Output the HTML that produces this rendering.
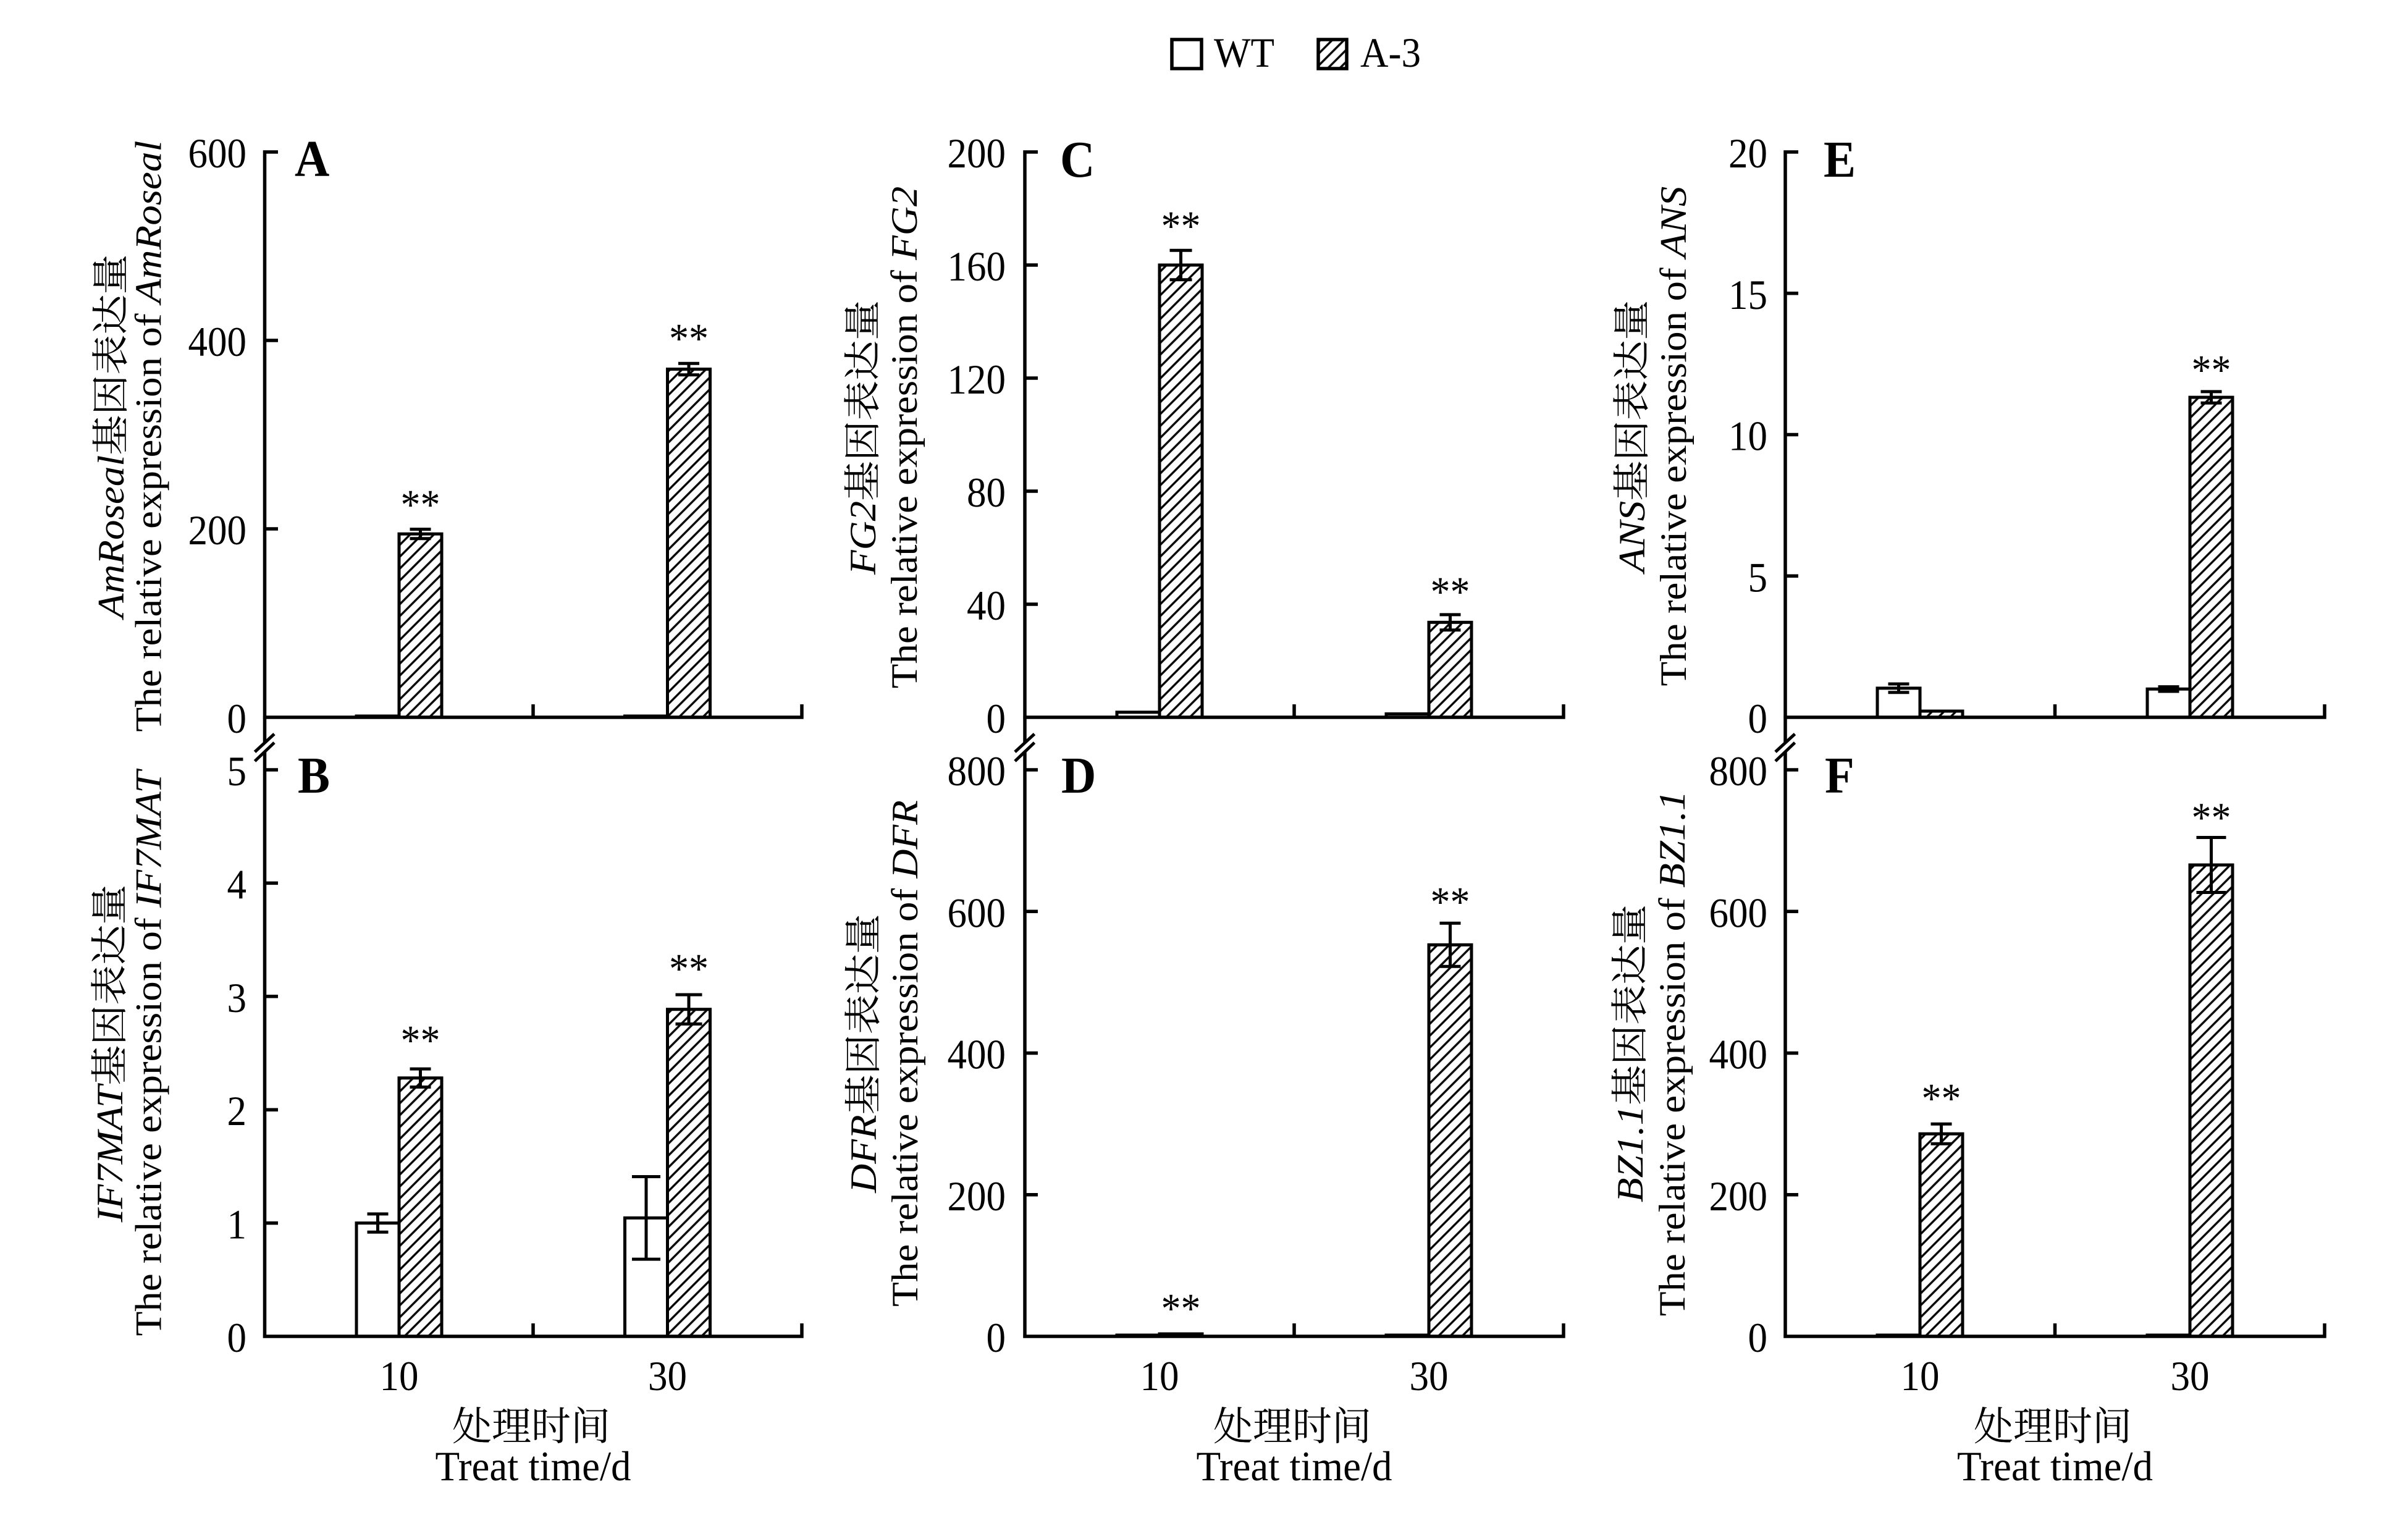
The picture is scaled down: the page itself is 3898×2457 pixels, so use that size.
<!DOCTYPE html>
<html>
<head>
<meta charset="utf-8">
<style>
  html, body { margin: 0; padding: 0; background: #ffffff; }
  svg { display: block; }
  text { font-family: "Liberation Serif", "Noto Serif CJK SC", serif; fill: #000; }
  .tk { font-size: 63px; }
  .xl { font-size: 63px; }
  .lt { font-size: 78px; font-weight: bold; }
  .at { font-size: 60.5px; }
  .st { font-size: 64px; }
  .lg { font-size: 63px; }
  .cj { font-size: 64px; }
  .tr { font-size: 65px; }
</style>
</head>
<body>
<svg width="3898" height="2457" viewBox="0 0 3898 2457" xmlns="http://www.w3.org/2000/svg">
  <defs>
    <pattern id="h" patternUnits="userSpaceOnUse" width="13.6" height="13.6" patternTransform="rotate(-45)">
      <rect x="0" y="0" width="13.6" height="13.6" fill="#fff"/>
      <line x1="-1" y1="6.8" x2="14.6" y2="6.8" stroke="#000" stroke-width="3.5"/>
    </pattern>
  </defs>
  <rect x="0" y="0" width="3898" height="2457" fill="#fff"/>

  <!-- Legend -->
  <rect x="1897" y="64" width="48" height="47" fill="#fff" stroke="#000" stroke-width="5.5"/>
  <text class="lg" transform="translate(1965,108) scale(1,1.075)">WT</text>
  <rect x="2134" y="64" width="46" height="47" fill="url(#h)" stroke="#000" stroke-width="5.5"/>
  <text class="lg" transform="translate(2202,108) scale(1,1.075)">A-3</text>

  <!-- ================= BARS ================= -->
  <g stroke="#000" stroke-width="5">
    <!-- A -->
    <rect x="577" y="1159" width="69" height="2" fill="#fff"/>
    <rect x="646" y="864.2" width="69" height="296.8" fill="url(#h)"/>
    <rect x="1011.5" y="1159" width="69" height="2" fill="#fff"/>
    <rect x="1080.5" y="597.5" width="69" height="563.5" fill="url(#h)"/>
    <!-- B -->
    <rect x="577" y="1979.6" width="69" height="183.4" fill="#fff"/>
    <rect x="646" y="1744.8" width="69" height="418.2" fill="url(#h)"/>
    <rect x="1011.5" y="1971.3" width="69" height="191.7" fill="#fff"/>
    <rect x="1080.5" y="1633.7" width="69" height="529.3" fill="url(#h)"/>
    <!-- C -->
    <rect x="1808" y="1152.8" width="69" height="8.2" fill="#fff"/>
    <rect x="1877" y="429" width="69" height="732" fill="url(#h)"/>
    <rect x="2244" y="1155.5" width="69" height="5.5" fill="#fff"/>
    <rect x="2313" y="1007.3" width="69" height="153.7" fill="url(#h)"/>
    <!-- D -->
    <rect x="1808" y="2161" width="69" height="2" fill="#fff"/>
    <rect x="1877" y="2159" width="69" height="4" fill="url(#h)"/>
    <rect x="2244" y="2161" width="69" height="2" fill="#fff"/>
    <rect x="2313" y="1529.3" width="69" height="633.7" fill="url(#h)"/>
    <!-- E -->
    <rect x="3039" y="1113.9" width="69" height="47.1" fill="#fff"/>
    <rect x="3108" y="1151" width="69" height="10" fill="url(#h)"/>
    <rect x="3476" y="1115.25" width="69" height="45.75" fill="#fff"/>
    <rect x="3545" y="643.1" width="69" height="517.9" fill="url(#h)"/>
    <!-- F -->
    <rect x="3039" y="2161" width="69" height="2" fill="#fff"/>
    <rect x="3108" y="1835.2" width="69" height="327.8" fill="url(#h)"/>
    <rect x="3476" y="2161" width="69" height="2" fill="#fff"/>
    <rect x="3545" y="1400" width="69" height="763" fill="url(#h)"/>
  </g>

  <!-- ================= ERROR BARS ================= -->
  <path fill="none" stroke="#000" stroke-width="5" d="
    M663.5 856.6 H697.5 M663.5 871.8 H697.5 M680.5 856.6 V871.8
    M1098 588.3 H1132 M1098 606.7 H1132 M1115 588.3 V606.7
    M594.5 1964.9 H628.5 M594.5 1994.3 H628.5 M611.5 1964.9 V1994.3
    M663.5 1730.1 H697.5 M663.5 1759.5 H697.5 M680.5 1730.1 V1759.5
    M1023 1904.5 H1069 M1023 2038.1 H1069 M1046 1904.5 V2038.1
    M1093.5 1610 H1136.5 M1093.5 1657.4 H1136.5 M1115 1610 V1657.4
    M1893.5 405.2 H1929.5 M1893.5 452.8 H1929.5 M1911.5 405.2 V452.8
    M2330.5 994.9 H2364.5 M2330.5 1019.7 H2364.5 M2347.5 994.9 V1019.7
    M2330.5 1494.3 H2364.5 M2330.5 1564.3 H2364.5 M2347.5 1494.3 V1564.3
    M3056.5 1107 H3090.5 M3056.5 1120.8 H3090.5 M3073.5 1107 V1120.8
    M3493.5 1111.6 H3527.5 M3493.5 1119 H3527.5 M3510.5 1111.6 V1119
    M3562.5 633.9 H3596.5 M3562.5 652.3 H3596.5 M3579.5 633.9 V652.3
    M3125.5 1819.2 H3159.5 M3125.5 1851.2 H3159.5 M3142.5 1819.2 V1851.2
    M3555.5 1355.5 H3603.5 M3555.5 1444.5 H3603.5 M3579.5 1355.5 V1444.5
  "/>

  <!-- ================= AXES ================= -->
  <path fill="none" stroke="#000" stroke-width="5.5" d="
    M428.5 243.3 V2165.7
    M425.7 1161 H1300.7 M425.7 2163 H1300.7
    M1298 1161 V1140 M863 1161 V1140
    M1298 2163 V2142 M863 2163 V2142
    M428.5 246 H450 M428.5 551 H450 M428.5 856 H450
    M428.5 1246 H450 M428.5 1429.4 H450 M428.5 1612.8 H450 M428.5 1796.2 H450 M428.5 1979.6 H450

    M1659 243.3 V2165.7
    M1656.2 1161 H2533.7 M1656.2 2163 H2533.7
    M2531 1161 V1140 M2095 1161 V1140
    M2531 2163 V2142 M2095 2163 V2142
    M1659 246 H1680 M1659 429 H1680 M1659 612 H1680 M1659 795 H1680 M1659 978 H1680
    M1659 1246 H1680 M1659 1475.25 H1680 M1659 1704.5 H1680 M1659 1933.75 H1680

    M2890 243.3 V2165.7
    M2887.2 1161 H3765.7 M2887.2 2163 H3765.7
    M3763 1161 V1140 M3326.5 1161 V1140
    M3763 2163 V2142 M3326.5 2163 V2142
    M2890 246 H2911 M2890 474.75 H2911 M2890 703.5 H2911 M2890 932.25 H2911
    M2890 1246 H2911 M2890 1475.25 H2911 M2890 1704.5 H2911 M2890 1933.75 H2911
  "/>

  <!-- Axis breaks -->
  <g>
    <polygon points="412.5,1217 444,1188 444,1202 412.5,1232" fill="#fff"/>
    <polygon points="1643,1217 1674.5,1188 1674.5,1202 1643,1232" fill="#fff"/>
    <polygon points="2874,1217 2905.5,1188 2905.5,1202 2874,1232" fill="#fff"/>
    <path fill="none" stroke="#000" stroke-width="5" d="
      M412.5 1217 L444 1188 M412.5 1232 L444 1202
      M1643 1217 L1674.5 1188 M1643 1232 L1674.5 1202
      M2874 1217 L2905.5 1188 M2874 1232 L2905.5 1202"/>
  </g>

  <!-- ================= TICK LABELS ================= -->
  <g class="tk" text-anchor="end">
    <!-- A -->
    <text transform="translate(399,1186) scale(1,1.075)">0</text>
    <text transform="translate(399,881) scale(1,1.075)">200</text>
    <text transform="translate(399,576) scale(1,1.075)">400</text>
    <text transform="translate(399,271) scale(1,1.075)">600</text>
    <!-- B -->
    <text transform="translate(399,2188) scale(1,1.075)">0</text>
    <text transform="translate(399,2004.6) scale(1,1.075)">1</text>
    <text transform="translate(399,1821.2) scale(1,1.075)">2</text>
    <text transform="translate(399,1637.8) scale(1,1.075)">3</text>
    <text transform="translate(399,1454.4) scale(1,1.075)">4</text>
    <text transform="translate(399,1271) scale(1,1.075)">5</text>
    <!-- C -->
    <text transform="translate(1628,1186) scale(1,1.075)">0</text>
    <text transform="translate(1628,1003) scale(1,1.075)">40</text>
    <text transform="translate(1628,820) scale(1,1.075)">80</text>
    <text transform="translate(1628,637) scale(1,1.075)">120</text>
    <text transform="translate(1628,454) scale(1,1.075)">160</text>
    <text transform="translate(1628,271) scale(1,1.075)">200</text>
    <!-- D -->
    <text transform="translate(1628,2188) scale(1,1.075)">0</text>
    <text transform="translate(1628,1958.75) scale(1,1.075)">200</text>
    <text transform="translate(1628,1729.5) scale(1,1.075)">400</text>
    <text transform="translate(1628,1500.25) scale(1,1.075)">600</text>
    <text transform="translate(1628,1271) scale(1,1.075)">800</text>
    <!-- E -->
    <text transform="translate(2861,1186) scale(1,1.075)">0</text>
    <text transform="translate(2861,957.25) scale(1,1.075)">5</text>
    <text transform="translate(2861,728.5) scale(1,1.075)">10</text>
    <text transform="translate(2861,499.75) scale(1,1.075)">15</text>
    <text transform="translate(2861,271) scale(1,1.075)">20</text>
    <!-- F -->
    <text transform="translate(2861,2188) scale(1,1.075)">0</text>
    <text transform="translate(2861,1958.75) scale(1,1.075)">200</text>
    <text transform="translate(2861,1729.5) scale(1,1.075)">400</text>
    <text transform="translate(2861,1500.25) scale(1,1.075)">600</text>
    <text transform="translate(2861,1271) scale(1,1.075)">800</text>
  </g>

  <!-- X tick labels -->
  <g class="xl" text-anchor="middle">
    <text transform="translate(646,2250) scale(1,1.075)">10</text>
    <text transform="translate(1080.5,2250) scale(1,1.075)">30</text>
    <text transform="translate(1877,2250) scale(1,1.075)">10</text>
    <text transform="translate(2313,2250) scale(1,1.075)">30</text>
    <text transform="translate(3108,2250) scale(1,1.075)">10</text>
    <text transform="translate(3545,2250) scale(1,1.075)">30</text>
  </g>

  <!-- X axis titles -->
  <g text-anchor="middle">
    <text class="cj" x="860" y="2331">处理时间</text>
    <text class="tr" transform="translate(863,2396) scale(1,1.04)">Treat time/d</text>
    <text class="cj" x="2092" y="2331">处理时间</text>
    <text class="tr" transform="translate(2095,2396) scale(1,1.04)">Treat time/d</text>
    <text class="cj" x="3323" y="2331">处理时间</text>
    <text class="tr" transform="translate(3326.5,2396) scale(1,1.04)">Treat time/d</text>
  </g>

  <!-- Panel letters -->
  <g class="lt">
    <text transform="translate(477,285) scale(1,1.075)">A</text>
    <text transform="translate(482,1283) scale(1,1.075)">B</text>
    <text transform="translate(1716,286) scale(1,1.075)">C</text>
    <text transform="translate(1718,1283) scale(1,1.075)">D</text>
    <text transform="translate(2952,286) scale(1,1.075)">E</text>
    <text transform="translate(2954,1283) scale(1,1.075)">F</text>
  </g>

  <!-- Significance asterisks -->
  <g class="st" text-anchor="middle">
    <text transform="translate(680.5,840) scale(1,1.075)">**</text>
    <text transform="translate(1115,571) scale(1,1.075)">**</text>
    <text transform="translate(680.5,1707) scale(1,1.075)">**</text>
    <text transform="translate(1115,1591) scale(1,1.075)">**</text>
    <text transform="translate(1911.5,389) scale(1,1.075)">**</text>
    <text transform="translate(2347.5,981) scale(1,1.075)">**</text>
    <text transform="translate(1911.5,2141) scale(1,1.075)">**</text>
    <text transform="translate(2347.5,1483) scale(1,1.075)">**</text>
    <text transform="translate(3579.5,622) scale(1,1.075)">**</text>
    <text transform="translate(3142.5,1801) scale(1,1.075)">**</text>
    <text transform="translate(3579.5,1346.5) scale(1,1.075)">**</text>
  </g>

  <!-- Y axis titles (rotated) -->
  <g class="at" text-anchor="middle">
    <!-- A -->
    <text transform="translate(200,706) scale(1,1.075) rotate(-90)"><tspan font-style="italic">AmRoseal</tspan>基因表达量</text>
    <text transform="translate(260.5,706) scale(1,1.075) rotate(-90)">The relative expression of <tspan font-style="italic">AmRoseal</tspan></text>
    <!-- B -->
    <text transform="translate(198,1705) scale(1,1.075) rotate(-90)"><tspan font-style="italic">IF7MAT</tspan>基因表达量</text>
    <text transform="translate(260.5,1705) scale(1,1.075) rotate(-90)">The relative expression of <tspan font-style="italic">IF7MAT</tspan></text>
    <!-- C -->
    <text transform="translate(1417,708) scale(1,1.075) rotate(-90)"><tspan font-style="italic">FG2</tspan>基因表达量</text>
    <text transform="translate(1484,708) scale(1,1.075) rotate(-90)">The relative expression of <tspan font-style="italic">FG2</tspan></text>
    <!-- D -->
    <text transform="translate(1418,1705) scale(1,1.075) rotate(-90)"><tspan font-style="italic">DFR</tspan>基因表达量</text>
    <text transform="translate(1485,1705) scale(1,1.075) rotate(-90)">The relative expression of <tspan font-style="italic">DFR</tspan></text>
    <!-- E -->
    <text transform="translate(2662,706) scale(1,1.075) rotate(-90)"><tspan font-style="italic">ANS</tspan>基因表达量</text>
    <text transform="translate(2729,706) scale(1,1.075) rotate(-90)">The relative expression of <tspan font-style="italic">ANS</tspan></text>
    <!-- F -->
    <text transform="translate(2659,1705) scale(1,1.075) rotate(-90)"><tspan font-style="italic">BZ1.1</tspan>基因表达量</text>
    <text transform="translate(2727,1705) scale(1,1.075) rotate(-90)">The relative expression of <tspan font-style="italic">BZ1.1</tspan></text>
  </g>
</svg>
</body>
</html>
